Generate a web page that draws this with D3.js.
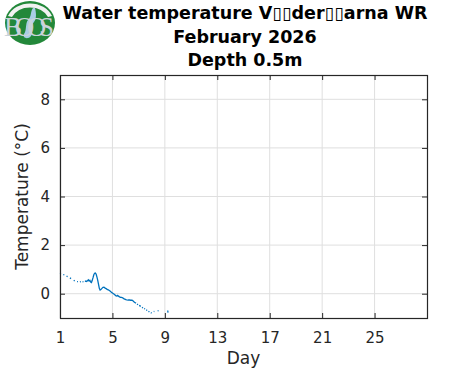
<!DOCTYPE html>
<html>
<head>
<meta charset="utf-8">
<script src="https://cdn.jsdelivr.net/npm/d3@7"></script>
<style>
  body { margin: 0; background: #fff; }
  svg { display: block; font-family: "DejaVu Sans", sans-serif; }
</style>
</head>
<body>
<div id="chart"></div>
<script>
// titles
const titleLines = ["Water temperature V\u25AF\u25AFder\u25AF\u25AFarna WR", "February 2026", "Depth 0.5m"];
const xLabel = "Day";
const yLabel = "Temperature (\u00B0C)";

// ticks
const xTicks = [1, 5, 9, 13, 17, 21, 25];
const yTicks = [0, 2, 4, 6, 8];

// measurements (null = gap in logger record)
const days = [1.00, 1.08, 1.15, 1.25, 1.33, 1.40, 1.50, 1.58, 1.66, 1.76, 1.84, 1.94, 2.05, 2.12, 2.20,
  2.30, 2.37, 2.45, 2.52, 2.59, 2.65, 2.72, 2.79, 2.85, 2.90, 2.97,
  3.04, 3.10, 3.16, 3.22, 3.28, 3.34, 3.40, 3.46, 3.52, 3.58, 3.64, 3.70, 3.76, 3.82, 3.88, 3.94,
  4.00, 4.06, 4.12, 4.20, 4.28, 4.36, 4.44, 4.52, 4.60, 4.68, 4.76, 4.84, 4.92,
  5.00, 5.08, 5.16, 5.22, 5.28, 5.34, 5.40, 5.46, 5.54, 5.62, 5.70, 5.78, 5.86, 5.94,
  6.02, 6.10, 6.20, 6.30, 6.40, 6.50, 6.56, 6.62, 6.68, 6.74, 6.80, 6.84, 6.88, 6.95, 7.00,
  7.04, 7.10, 7.16, 7.21, 7.26, 7.33, 7.38, 7.42, 7.49, 7.54, 7.58, 7.65, 7.70, 7.75, 7.82, 7.88,
  7.93, 7.99, 8.08, 8.15, 8.20, 8.30, 8.45, 8.52, 8.90, 9.22, 9.24];
const temps = [0.85, 0.83, null, 0.79, 0.77, null, 0.72, 0.70, null, 0.65, 0.62, null, 0.55, 0.52, null,
  0.50, 0.50, null, 0.49, 0.50, null, 0.50, 0.49, null, 0.50, 0.52,
  0.50, 0.54, 0.57, 0.52, 0.55, 0.48, 0.46, 0.55, 0.66, 0.78, 0.84, 0.85, 0.80, 0.68, 0.55, 0.38,
  0.22, 0.15, 0.17, 0.22, 0.26, 0.27, 0.23, 0.21, 0.18, 0.16, 0.13, 0.10, 0.06,
  0.03, 0.00, -0.03, -0.06, -0.09, -0.10, -0.07, -0.10, -0.13, -0.15, -0.15, -0.17, -0.20, -0.22,
  -0.24, -0.25, -0.26, -0.26, -0.27, -0.27, -0.29, -0.32, -0.35, -0.37, -0.39, null, -0.42, -0.45, null,
  -0.48, -0.50, -0.52, null, -0.56, -0.59, null, -0.61, -0.63, null, -0.66, -0.69, null, -0.72, -0.75, null,
  -0.78, -0.80, null, -0.74, -0.73, null, -0.71, -0.70, null, -0.69, -0.78];

const W = 471, H = 371;
const plot = { left: 60, right: 427, top: 75, bottom: 318 };
const ink = "#262626";

const svg = d3.select("#chart").append("svg")
  .attr("width", W)
  .attr("height", H);

const x = d3.scaleLinear().domain([1, 29]).range([plot.left, plot.right]);
const y = d3.scaleLinear().domain([-1, 9]).range([plot.bottom, plot.top]);

// grid
svg.append("g").selectAll("line")
  .data(xTicks)
  .join("line")
  .attr("x1", d => x(d)).attr("x2", d => x(d))
  .attr("y1", plot.top).attr("y2", plot.bottom)
  .attr("stroke", "#dfdfdf").attr("stroke-width", 1);

svg.append("g").selectAll("line")
  .data(yTicks)
  .join("line")
  .attr("x1", plot.left).attr("x2", plot.right)
  .attr("y1", d => y(d)).attr("y2", d => y(d))
  .attr("stroke", "#dfdfdf").attr("stroke-width", 1);

// data line
const pts = days.map((d, i) => ({ day: d, t: temps[i] }));
const line = d3.line()
  .defined(d => d.t !== null)
  .x(d => x(d.day))
  .y(d => y(d.t));

svg.append("path")
  .datum(pts)
  .attr("d", line)
  .attr("fill", "none")
  .attr("stroke", "#0072bd")
  .attr("stroke-width", 1.3);

// axes, ticks pointing inward
function styleAxis(g, showLabels) {
  g.select(".domain").remove();
  g.selectAll(".tick line").attr("stroke", ink);
  g.selectAll(".tick text")
    .attr("fill", ink)
    .style("font-size", "15px")
    .style("font-family", "DejaVu Sans, sans-serif");
  if (!showLabels) g.selectAll(".tick text").remove();
}

svg.append("g")
  .attr("transform", `translate(0,${plot.bottom})`)
  .call(d3.axisBottom(x).tickValues(xTicks).tickSize(-5).tickPadding(14))
  .call(g => styleAxis(g, true));

svg.append("g")
  .attr("transform", `translate(0,${plot.top})`)
  .call(d3.axisTop(x).tickValues(xTicks).tickSize(-5))
  .call(g => styleAxis(g, false));

svg.append("g")
  .attr("transform", `translate(${plot.left},0)`)
  .call(d3.axisLeft(y).tickValues(yTicks).tickSize(-5).tickPadding(10))
  .call(g => styleAxis(g, true));

svg.append("g")
  .attr("transform", `translate(${plot.right},0)`)
  .call(d3.axisRight(y).tickValues(yTicks).tickSize(-5))
  .call(g => styleAxis(g, false));

// box
svg.append("rect")
  .attr("x", plot.left + 0.5).attr("y", plot.top + 0.5)
  .attr("width", plot.right - plot.left).attr("height", plot.bottom - plot.top)
  .attr("fill", "none")
  .attr("stroke", ink)
  .attr("stroke-width", 1.2);

// axis labels
svg.append("text")
  .attr("x", (plot.left + plot.right) / 2)
  .attr("y", 364)
  .attr("text-anchor", "middle")
  .attr("fill", ink)
  .style("font-size", "17px")
  .text(xLabel);

svg.append("text")
  .attr("transform", `translate(28,${(plot.top + plot.bottom) / 2}) rotate(-90)`)
  .attr("text-anchor", "middle")
  .attr("fill", ink)
  .style("font-size", "17px")
  .text(yLabel);

// title
svg.append("g").selectAll("text")
  .data(titleLines)
  .join("text")
  .attr("x", 245)
  .attr("y", (d, i) => 19 + i * 23.5)
  .attr("text-anchor", "middle")
  .attr("fill", "#000")
  .style("font-size", "17.5px")
  .style("font-weight", "bold")
  .text(d => d);

// BOOS logo
const logo = svg.append("g");
logo.append("ellipse")
  .attr("cx", 30).attr("cy", 23).attr("rx", 25).attr("ry", 22)
  .attr("fill", "#23883a");
logo.append("path")
  .attr("d", "M8,16 A24,21 0 0 1 52,16 L48,17 A20,17 0 0 0 12,17 Z")
  .attr("fill", "#f2f2f2");
logo.append("path")
  .attr("d", "M33,8 C30,12 32,16 28,20 C25,24 27,30 24,34 C22,38 28,40 31,36 C34,32 30,26 34,22 C37,18 36,12 35,8 Z")
  .attr("fill", "#a9cde6");
logo.append("text")
  .attr("x", 29).attr("y", 36)
  .attr("text-anchor", "middle")
  .attr("fill", "#c9d3da")
  .style("font-family", "Liberation Serif, serif")
  .style("font-size", "27px")
  .attr("textLength", 50)
  .text("BOOS");
</script>
</body>
</html>
